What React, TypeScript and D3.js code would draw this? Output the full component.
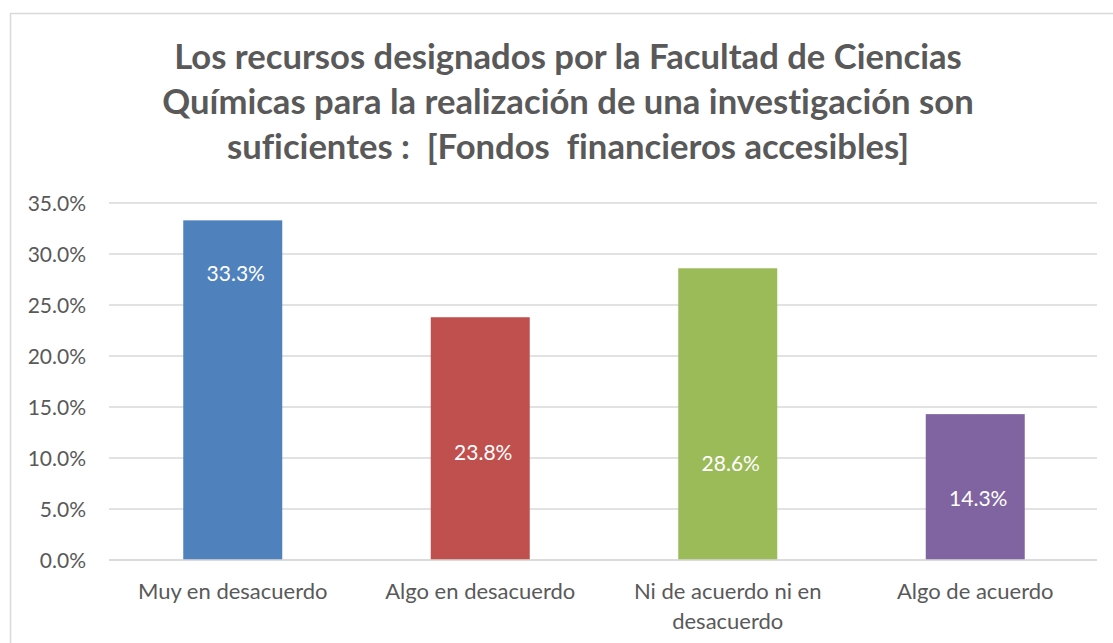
import React, { useEffect, useRef } from 'react';
import * as d3 from 'd3';

const categories = ['Muy en desacuerdo', 'Algo en desacuerdo', 'Ni de acuerdo ni en desacuerdo', 'Algo de acuerdo'];
const values = [33.3, 23.8, 28.6, 14.3];
const labelAt = [28.1, 10.5, 9.5, 6.0];
const colors = ['#4F81BD', '#C0504D', '#9BBB59', '#8064A2'];
const yTicks = [0, 5, 10, 15, 20, 25, 30, 35];
const titleLines = [
  'Los recursos designados por la Facultad de Ciencias',
  'Químicas para la realización de una investigación son',
  'suficientes :  [Fondos  financieros accesibles]',
];

const FONT = 'Lato, "Noto Sans", sans-serif';

export default function App() {
  const ref = useRef<SVGSVGElement>(null);

  useEffect(() => {
    const width = 1113;
    const height = 643;
    const margin = { top: 203, bottom: 83, left: 109, right: 14 };

    const svg = d3.select(ref.current);
    svg.selectAll('*').remove();
    svg.style('font-variant-ligatures', 'none');

    svg.append('rect')
      .attr('x', 10.5).attr('y', 13.5)
      .attr('width', 1120).attr('height', 650)
      .attr('fill', '#fff')
      .attr('stroke', '#d9d9d9')
      .attr('stroke-width', 1.5);

    // title
    const title = svg.append('g')
      .attr('fill', '#595959')
      .attr('font-family', FONT)
      .attr('font-weight', 700)
      .attr('text-anchor', 'middle');
    const tl = title.selectAll('text')
      .data(titleLines)
      .join('text')
      .attr('x', 568)
      .attr('y', (d, i) => 69 + i * 45)
      .attr('font-size', 32)
      .style('white-space', 'pre')
      .text(d => d);
    const first = tl.node() as SVGTextElement;
    if (first) {
      const w = first.getComputedTextLength();
      if (w > 0) tl.attr('font-size', 32 * 788 / w);
    }

    const x = d3.scaleBand()
      .domain(categories)
      .range([margin.left, width - margin.right])
      .paddingInner(0.6)
      .paddingOuter(0.3);

    const y = d3.scaleLinear()
      .domain([0, 35])
      .range([height - margin.bottom, margin.top]);

    // gridlines
    svg.append('g')
      .selectAll('line')
      .data(yTicks)
      .join('line')
      .attr('x1', margin.left)
      .attr('x2', width - margin.right - 2)
      .attr('y1', d => y(d))
      .attr('y2', d => y(d))
      .attr('stroke', '#d9d9d9')
      .attr('stroke-width', 1.3);

    // y labels
    svg.append('g')
      .selectAll('text')
      .data(yTicks)
      .join('text')
      .attr('x', 86)
      .attr('y', d => y(d))
      .attr('dy', '0.36em')
      .attr('text-anchor', 'end')
      .attr('fill', '#595959')
      .attr('font-family', FONT)
      .attr('font-size', 21)
      .text(d => d.toFixed(1) + '%');

    // bars
    svg.append('g')
      .selectAll('rect')
      .data(values)
      .join('rect')
      .attr('x', (d, i) => x(categories[i]) as number)
      .attr('y', d => y(d))
      .attr('width', x.bandwidth())
      .attr('height', d => y(0) - y(d))
      .attr('fill', (d, i) => colors[i]);

    // axis line on top of bars
    svg.append('line')
      .attr('x1', margin.left).attr('x2', width - margin.right - 2)
      .attr('y1', y(0)).attr('y2', y(0))
      .attr('stroke', '#d9d9d9').attr('stroke-width', 1.3);

    // data labels
    svg.append('g')
      .selectAll('text')
      .data(values)
      .join('text')
      .attr('x', (d, i) => (x(categories[i]) as number) + x.bandwidth() / 2 + 3)
      .attr('y', (d, i) => y(labelAt[i]))
      .attr('dy', '0.36em')
      .attr('text-anchor', 'middle')
      .attr('fill', '#fff')
      .attr('font-family', FONT)
      .attr('font-size', 21)
      .text(d => d.toFixed(1) + '%');

    // category labels with wrapping
    const step = x.step();
    const cats = svg.append('g')
      .selectAll('text')
      .data(categories)
      .join('text')
      .attr('x', d => (x(d) as number) + x.bandwidth() / 2)
      .attr('y', 599)
      .attr('text-anchor', 'middle')
      .attr('fill', '#595959')
      .attr('font-family', FONT)
      .attr('font-size', 22);

    cats.each(function (d) {
      const t = d3.select(this);
      const words = d.split(' ');
      let line: string[] = [];
      let lineNo = 0;
      const cx = t.attr('x');
      let ts = t.append('tspan').attr('x', cx).attr('y', 599);
      for (const w of words) {
        line.push(w);
        ts.text(line.join(' '));
        if ((ts.node() as SVGTSpanElement).getComputedTextLength() > step * 0.95 && line.length > 1) {
          line.pop();
          ts.text(line.join(' '));
          line = [w];
          lineNo++;
          ts = t.append('tspan').attr('x', cx).attr('y', 599 + lineNo * 30).text(w);
        }
      }
    });
  }, []);

  return (
    <svg
      ref={ref}
      width={1113}
      height={643}
      style={{ position: 'absolute', left: 0, top: 0, background: '#fff' }}
    />
  );
}
